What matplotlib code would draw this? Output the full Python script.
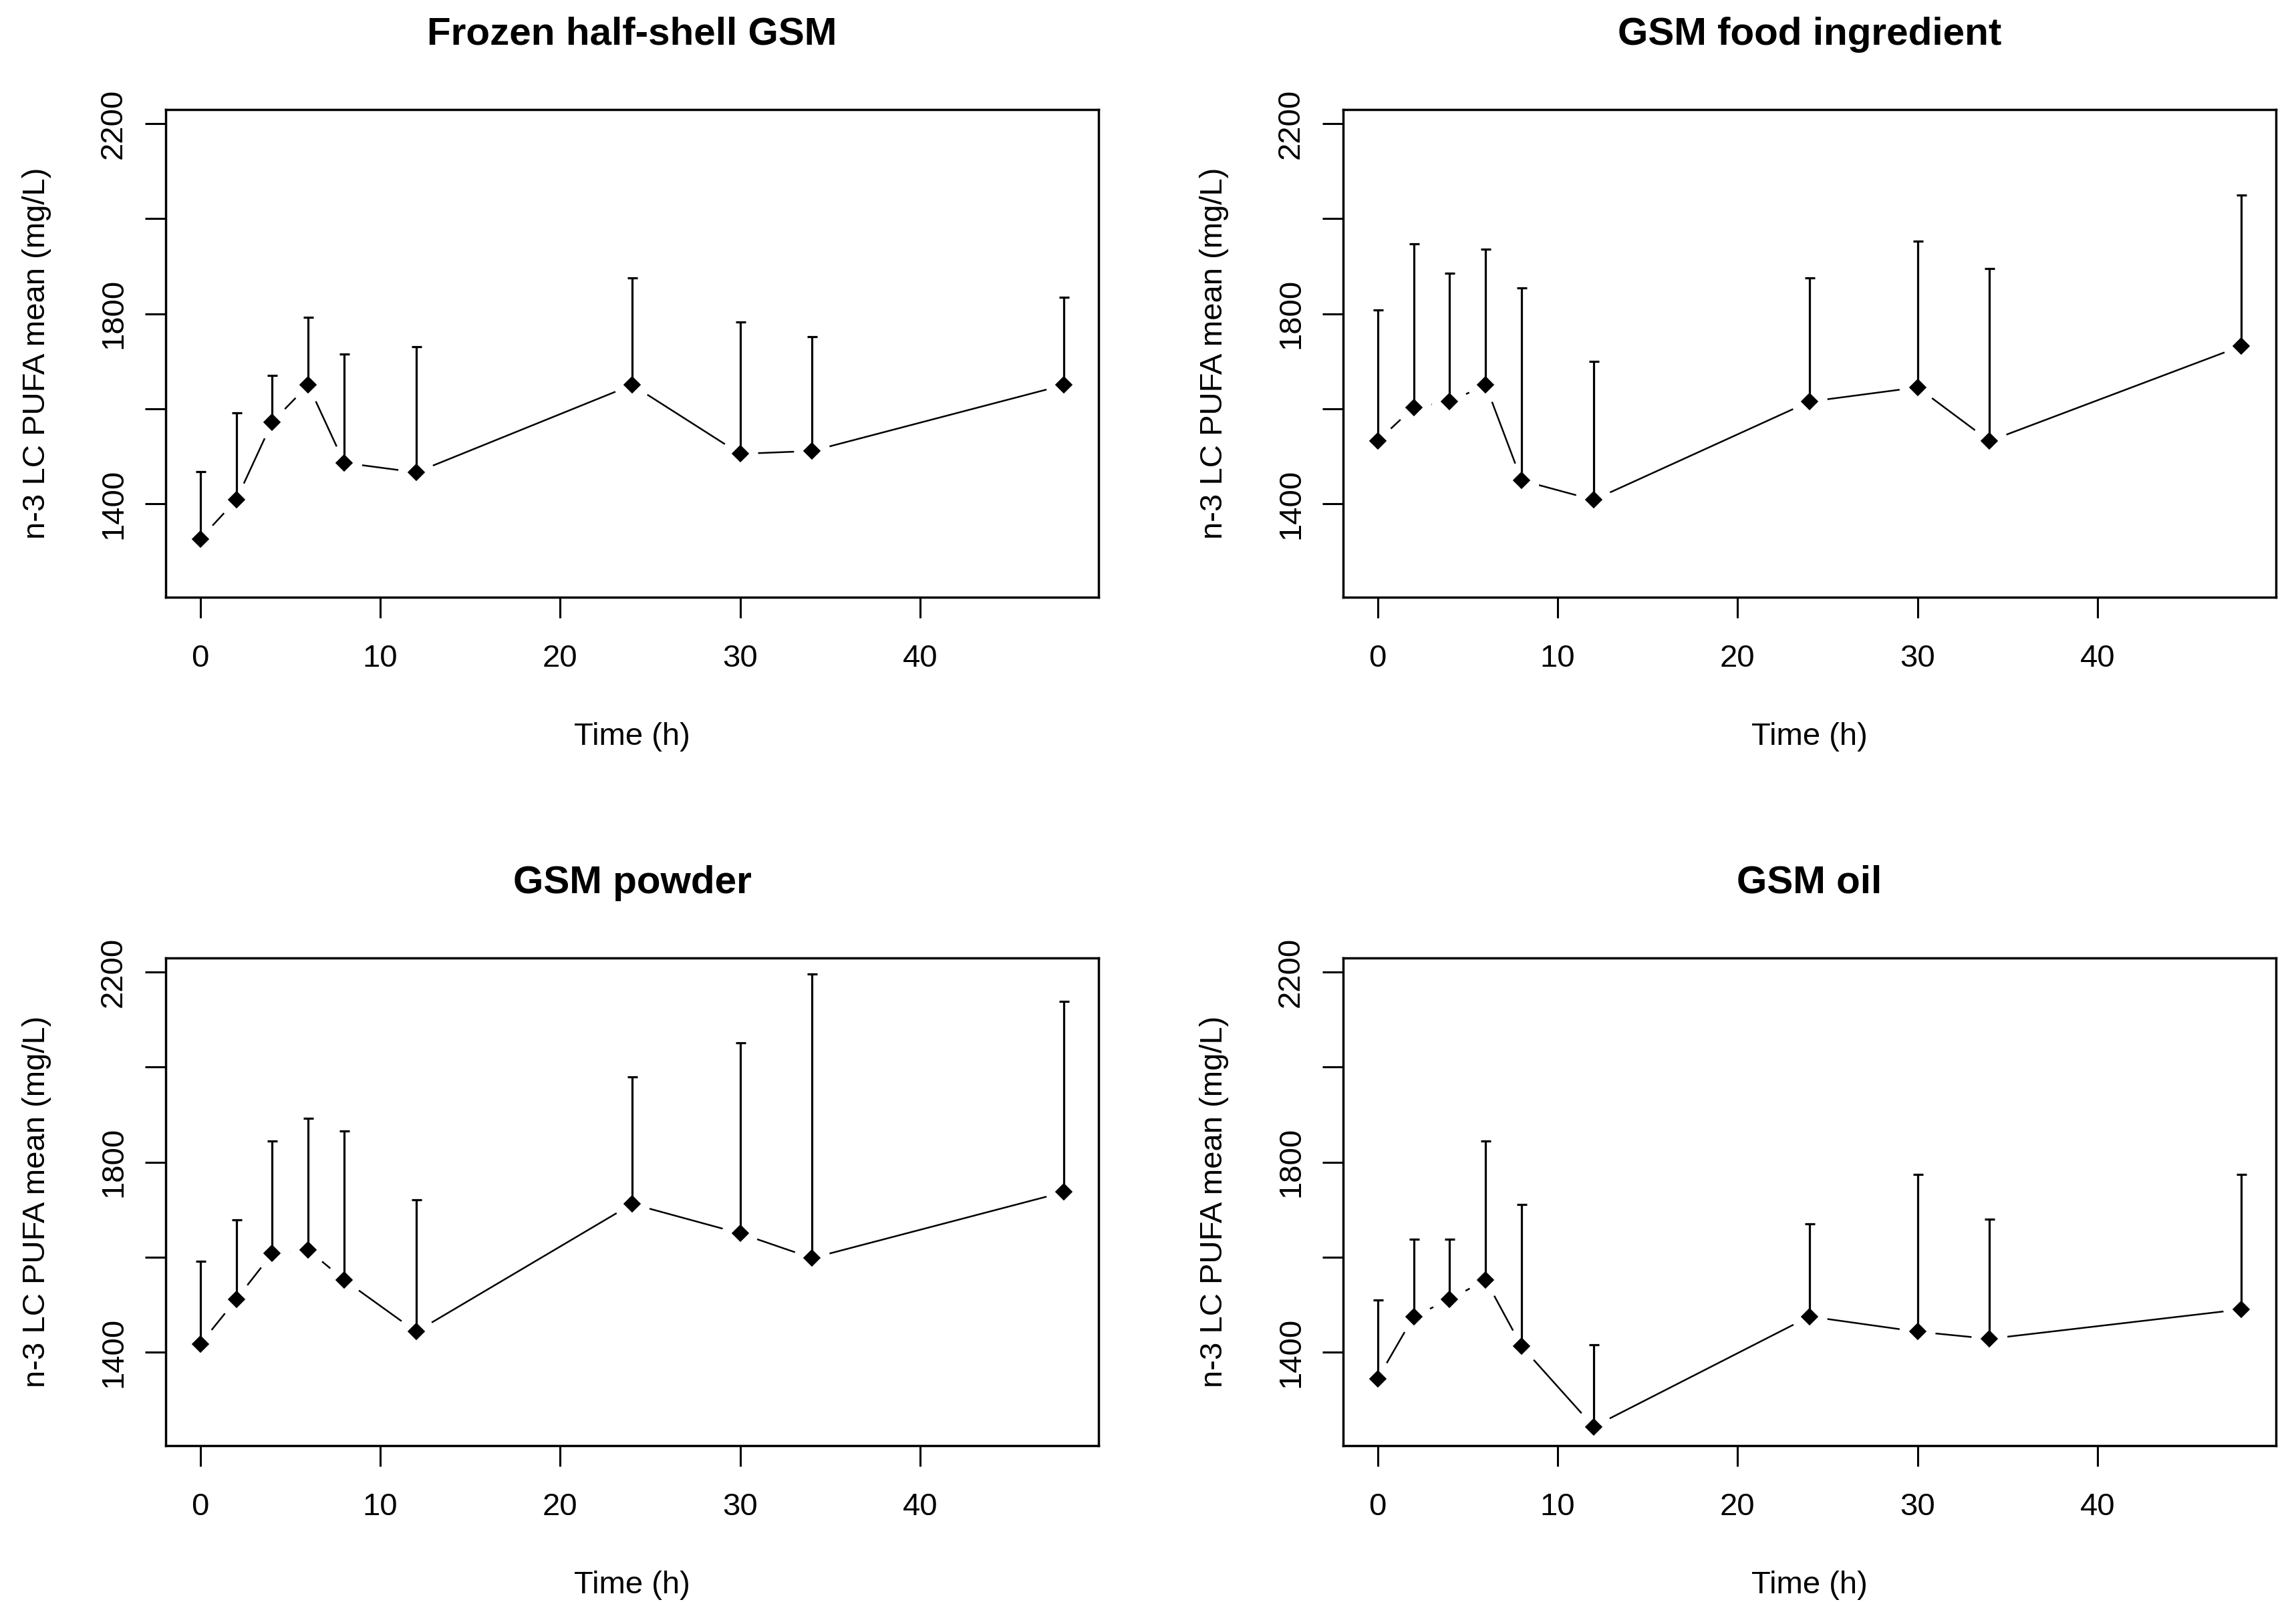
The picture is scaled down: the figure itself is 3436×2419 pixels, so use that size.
import matplotlib
matplotlib.use('Agg')
import matplotlib.pyplot as plt
import numpy as np

plt.rcParams['font.family'] = ['Liberation Sans', 'DejaVu Sans']

# ---------------- data ----------------
time_h = [0, 2, 4, 6, 8, 12, 24, 30, 34, 48]

titles = ["Frozen half-shell GSM", "GSM food ingredient", "GSM powder", "GSM oil"]

frozen_mean = [1326, 1408, 1572, 1650, 1486, 1466, 1650, 1505, 1511, 1650]
frozen_sd = [142, 183, 98, 142, 229, 264, 226, 277, 240, 184]

food_mean = [1532, 1603, 1615, 1650, 1449, 1408, 1615, 1645, 1532, 1732]
food_sd = [276, 344, 271, 286, 406, 291, 261, 308, 363, 318]

powder_mean = [1417, 1511, 1608, 1615, 1552, 1443, 1712, 1650, 1598, 1737]
powder_sd = [174, 167, 236, 277, 314, 278, 267, 401, 598, 402]

oil_mean = [1344, 1475, 1511, 1552, 1412, 1243, 1475, 1443, 1428, 1490]
oil_sd = [166, 163, 127, 292, 299, 173, 195, 331, 252, 284]

means = [frozen_mean, food_mean, powder_mean, oil_mean]
sds = [frozen_sd, food_sd, powder_sd, oil_sd]

x_ticks = [0, 10, 20, 30, 40]
y_ticks = [1400, 1600, 1800, 2000, 2200]
y_ticklabels = ["1400", "", "1800", "", "2200"]
x_label = "Time (h)"
y_label = "n-3 LC PUFA mean (mg/L)"

# ---------------- figure ----------------
W, H = 3436, 2419
fig = plt.figure(figsize=(W / 100, H / 100), dpi=100)

ax_w = 1396 / W
ax_h = 730 / H
lefts = [248 / W, 2010 / W]
bottoms = [1 - 894 / H, 1 - 2164 / H]
positions = [(lefts[0], bottoms[0]), (lefts[1], bottoms[0]),
             (lefts[0], bottoms[1]), (lefts[1], bottoms[1])]

gap_px = 27
fs = 34

for k in range(4):
    x0, y0 = positions[k]
    ax = fig.add_axes([x0, y0, ax_w, ax_h])
    ax.set_xlim(-1.92, 49.92)
    ax.set_ylim(1203, 2230)

    t = np.array(time_h, dtype=float)
    m = np.array(means[k], dtype=float)
    s = np.array(sds[k], dtype=float)

    # connecting lines with gaps around points (R type = "b")
    pts = ax.transData.transform(np.column_stack([t, m]))
    inv = ax.transData.inverted()
    for i in range(len(t) - 1):
        p0, p1 = pts[i], pts[i + 1]
        d = p1 - p0
        L = np.hypot(d[0], d[1])
        if L > 2 * gap_px:
            u = d / L
            q = inv.transform(np.array([p0 + u * gap_px, p1 - u * gap_px]))
            ax.plot(q[:, 0], q[:, 1], color='black', lw=1.8,
                    solid_capstyle='butt', zorder=2)

    # upper error bars
    ax.errorbar(t, m, yerr=[np.zeros_like(s), s], fmt='none', ecolor='black',
                elinewidth=2.3, capsize=5.4, capthick=2.3, zorder=3)
    # points
    ax.plot(t, m, linestyle='none', marker='D', ms=12, color='black',
            markeredgewidth=1.2, zorder=4)

    ax.set_xticks(x_ticks)
    ax.set_yticks(y_ticks)
    ax.set_yticklabels(y_ticklabels, rotation=90, va='center')
    ax.tick_params(axis='both', length=22.3, width=2.2, labelsize=fs,
                   colors='black')
    ax.tick_params(axis='x', pad=28)
    ax.tick_params(axis='y', pad=18)
    for sp in ax.spines.values():
        sp.set_linewidth(2.5)
        sp.set_color('black')

    ax.set_xlabel(x_label, fontsize=fs)
    ax.xaxis.set_label_coords(0.5, -0.256)
    ax.set_ylabel(y_label, fontsize=fs)
    ax.yaxis.set_label_coords(-0.1225, 0.5)
    ax.set_title(titles[k], fontsize=42, fontweight='bold', pad=70)

fig.savefig('out.png', dpi=100)
